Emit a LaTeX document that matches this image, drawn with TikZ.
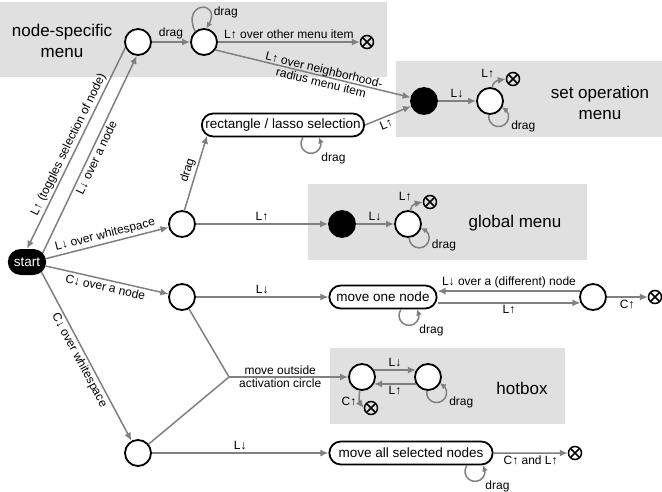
\documentclass[tikz,border=0pt]{standalone}
\usepackage{fontspec}
\setmainfont{Liberation Sans}
\usetikzlibrary{arrows.meta, bending, automata, shapes}
\definecolor{menugray}{gray}{0.88}
\definecolor{edgegray}{gray}{0.5}
\tikzset{
	every state/.style={draw=black, line width=1.8pt, fill=white, minimum size=26pt, inner sep=0pt},
	filled state/.style={state, fill=black},
	exit mark/.style={circle, draw=black, line width=1.5pt, minimum size=13pt, inner sep=0pt,
		path picture={\draw[line width=1.5pt] (path picture bounding box.north west) -- (path picture bounding box.south east)
			(path picture bounding box.north east) -- (path picture bounding box.south west);}},
	action box/.style={draw, rounded rectangle, line width=1.8pt, minimum height=23pt, font=\fontsize{13.5}{15}\selectfont},
	start pill/.style={rounded rectangle, fill=black, text=white, minimum width=45pt, minimum height=26pt, font=\fontsize{13.5}{15}\selectfont},
	menu label/.style={align=center, font=\fontsize{17}{21}\selectfont},
	trans/.style={->, every edge/.style={draw=edgegray, line width=1.5pt}},
	drag loop/.style={draw=edgegray, line width=1.5pt, -{Latex[length=6pt,width=6pt]}},
	state loop/.style={radius=10pt, start angle=#1+229.7, delta angle=260.6},
	box loop/.style={radius=10pt, start angle=143.1, delta angle=253.8},
	lab/.style={font=\fontsize{12}{13}\selectfont, text=black, inner sep=2pt}
}

\begin{document}
\begin{tikzpicture}[x=1pt, y=1pt, >={Latex[length=8pt,width=7pt]}]
	\useasboundingbox (0,0) rectangle (662,491);
	\fill[menugray] (0,414) rectangle (387,489);
	\fill[menugray] (396,354) rectangle (662,430);
	\fill[menugray] (308,231) rectangle (587,307);
	\fill[menugray] (330,67) rectangle (565,143);

	\node[menu label] (nsmenu) at (62,450) {node-specific\\menu};
	\node[menu label] (somenu) at (600,388) {set operation\\menu};
	\node[menu label] (gmenu)  at (515,268) {global menu};
	\node[menu label] (hbmenu) at (522,103) {hotbox};

	\node[start pill]  (start)    at (27,229)  {start};
	\node[state]       (n1)       at (138,449) {};
	\node[state]       (n2)       at (204,449) {};
	\node[exit mark]   (n2x)      at (367,449) {};
	\node[filled state] (so1)     at (424,390) {};
	\node[state]       (so2)      at (490,390) {};
	\node[exit mark]   (so2x)     at (513,412) {};
	\node[action box, minimum width=169pt] (lasso) at (283,366) {rectangle / lasso selection};
	\node[state]       (ws)       at (182,267) {};
	\node[filled state] (gm1)     at (342,267) {};
	\node[state]       (gm2)      at (408,267) {};
	\node[exit mark]   (gm2x)     at (430,289) {};
	\node[state]       (cn)       at (182,194) {};
	\node[action box, minimum width=114pt] (moveone) at (383,194) {move one node};
	\node[state]       (mc)       at (593,194) {};
	\node[exit mark]   (mcx)      at (655,194) {};
	\coordinate        (fork)     at (229,114);
	\node[state]       (h1)       at (362,114) {};
	\node[state]       (h2)       at (428,114) {};
	\node[exit mark]   (h1x)      at (371,83)  {};
	\node[state]       (cw)       at (138,38)  {};
	\node[action box, minimum width=170pt] (moveall) at (411,38) {move all selected nodes};
	\node[exit mark]   (moveallx) at (575,38)  {};

	\path[trans] (n1.204) edge node[lab, sloped, above] {L↑ (toggles selection of node)} (start.north);
	\path[trans] (start.30) edge node[lab, sloped, below] {L↓ over a node} (n1.-95);
	\path[trans] (n1) edge node[lab, above] {drag} (n2);
	\draw[drag loop] (n2.130) to[out=115, in=55, looseness=1, min distance=35pt] node[lab, right, pos=0.75] {drag} (n2.80);
	\path[trans] (n2) edge node[lab, above] {L↑ over other menu item} (n2x);
	\path[trans] (n2.-35) edge node[lab, sloped, align=center, pos=0.55] {L↑ over neighborhood-\\radius menu item} (so1.165);
	\path[trans] (so1) edge node[lab, above] {L↓} (so2);
	\path[trans] (so2.80) edge[out=90, in=180] node[lab, above left] {L↑} (so2x);
	\draw[drag loop] (so2.-95.9) arc[state loop=-60] node[lab, below right, pos=0.7] {drag};

	\path[trans] (start.10) edge node[lab, sloped, above] {L↓ over whitespace} (ws);
	\path[trans] (ws.80) edge node[lab, sloped, above] {drag} (lasso.188);
	\path[trans] (lasso.east) edge node[lab, sloped, below, pos=0.4] {L↑} (so1);
	\draw[drag loop] ([xshift=20pt]lasso.south) arc[box loop] node[lab, below right, pos=0.7] {drag};
	\path[trans] (ws) edge node[lab, above] {L↑} (gm1);
	\path[trans] (gm1) edge node[lab, above] {L↓} (gm2);
	\path[trans] (gm2.80) edge[out=90, in=180] node[lab, above left] {L↑} (gm2x);
	\draw[drag loop] (gm2.-85.9) arc[state loop=-50] node[lab, below right, pos=0.7] {drag};

	\path[trans] (start.-12) edge node[lab, sloped, below] {C↓ over a node} (cn);
	\path[trans] (cn) edge node[lab, above] {L↓} (moveone);
	\path[trans] (mc.155) edge node[lab, above] {L↓ over a (different) node} (mc.155 -| moveone.east);
	\path[trans] (moveone.east |- mc.-155) edge node[lab, below] {L↑} (mc.-155);
	\path[trans] (mc) edge node[lab, below] {C↑} (mcx);
	\draw[drag loop] ([xshift=18pt]moveone.south) arc[box loop] node[lab, below right, pos=0.7] {drag};

	\draw[edgegray, line width=1.5pt, line join=round] (cn) -- (fork) -- (cw);
	\path[trans] (fork) edge node[lab, align=center, pos=0.43] {move outside\\activation circle} (h1);
	\path[trans] (h1.30) edge node[lab, above] {L↓} (h2.150);
	\path[trans] (h2.-150) edge node[lab, below] {L↑} (h1.-30);
	\path[trans] (h1.-100) edge[out=-90, in=180] node[lab, left] {C↑} (h1x);
	\draw[drag loop] (h2.-95.9) arc[state loop=-60] node[lab, below right, pos=0.7] {drag};

	\path[trans] (start.-35) edge node[lab, sloped, below] {C↓ over whitespace} (cw);
	\path[trans] (cw) edge node[lab, above] {L↓} (moveall);
	\path[trans] (moveall) edge node[lab, below] {C↑ and L↑} (moveallx);
	\draw[drag loop] ([xshift=56pt]moveall.south) arc[box loop] node[lab, below right, pos=0.7] {drag};
\end{tikzpicture}
\end{document}
